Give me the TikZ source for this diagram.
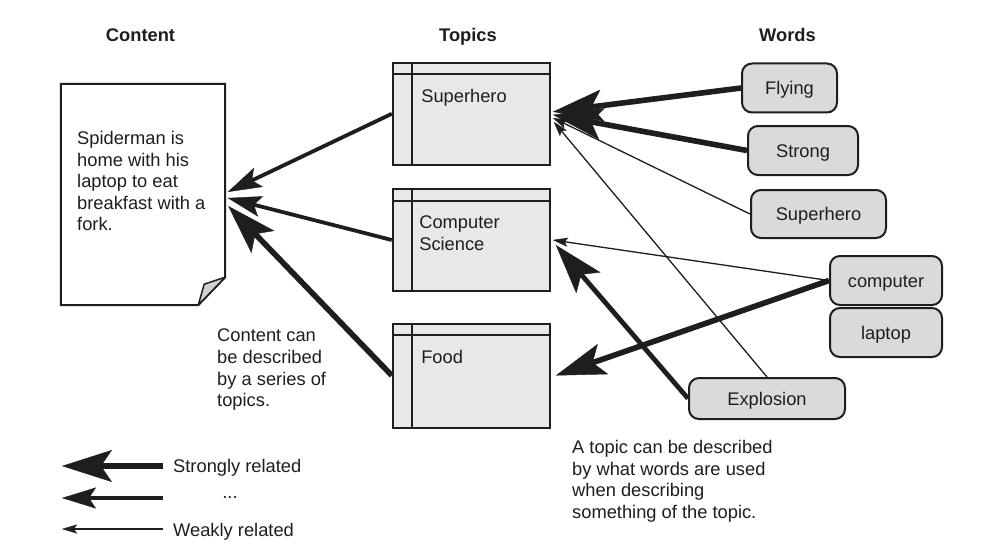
\documentclass[tikz,border=0pt]{standalone}
\usepackage{fontspec}
\setmainfont{Liberation Sans}
\usetikzlibrary{arrows.meta,calc}
\definecolor{ink}{HTML}{1E1E1E}
\definecolor{topicfill}{HTML}{E8E8E8}
\definecolor{wordfill}{HTML}{DADADA}
\definecolor{flapfill}{HTML}{D0D0D0}
\pgfdeclarelayer{bg}
\pgfsetlayers{bg,main}
\tikzset{
  txt/.style={font=\fontsize{18.3}{21.6}\selectfont, text=ink, inner sep=0pt},
  headtxt/.style={font=\fontsize{18.3}{21.6}\selectfont\bfseries, text=ink, inner sep=0pt},
  topicbox/.style={draw=ink, line width=2pt, fill=topicfill, minimum width=157pt, minimum height=102pt, inner sep=0pt},
  topicline/.style={draw=ink, line width=2pt},
  wordbox/.style={draw=ink, line width=2pt, fill=wordfill, rounded corners=10pt, inner sep=0pt,
    font=\fontsize{18.3}{21.6}\selectfont, text=ink, text height=13.2pt, text depth=0pt},
  strongarr/.style={draw=ink, line width=5.6pt, -{Stealth[length=50pt, width=32pt, inset=11pt, line width=0.4pt]}},
  midarr/.style={draw=ink, line width=3.8pt, -{Stealth[length=34pt, width=21pt, inset=7pt, line width=0.4pt]}},
  weakarr/.style={draw=ink, line width=1.3pt, -{Stealth[length=15pt, width=9pt, inset=3pt, line width=0.3pt]}},
}
\begin{document}
\begin{tikzpicture}[x=1pt,y=-1pt]
\begin{pgfonlayer}{bg}
\fill[white] (0,0) rectangle (997,551);
\end{pgfonlayer}
\useasboundingbox (0,0) rectangle (997,551);

% headings
\node[headtxt, anchor=base] (hcontent) at (140.5,41.5) {Content};
\node[headtxt, anchor=base] (htopics) at (468,41.5) {Topics};
\node[headtxt, anchor=base] (hwords) at (787.5,41.5) {Words};

% document
\node[minimum width=164pt, minimum height=221pt, inner sep=0pt] (doc) at (143,194.5) {};
\draw[draw=ink, line width=2pt, fill=white, line join=miter]
  (doc.north west) -- (doc.north east) -- ($(doc.south east)+(0,-28)$)
  -- ($(doc.south east)+(-27,0)$) -- (doc.south west) -- cycle;
\draw[draw=ink, line width=1.5pt, fill=flapfill, line join=round]
  ($(doc.south east)+(0,-28)$) -- ($(doc.south east)+(-21,-21)$) -- ($(doc.south east)+(-27,0)$) -- cycle;
\node[txt, anchor=north west, align=left] (doctext) at (77,131) {Spiderman is\\home with his\\laptop to eat\\breakfast with a\\fork.};

% topics
\node[topicbox] (tsh) at (471.3,113.8) {};
\node[topicbox] (tcs) at (471.3,240) {};
\node[topicbox, minimum height=104pt] (tfd) at (471.3,375.5) {};
\foreach \t in {tsh,tcs,tfd}{
  \draw[topicline] ($(\t.north west)+(0,12.5)$) -- ($(\t.north east)+(0,12.5)$);
  \draw[topicline] ($(\t.north west)+(20,0)$) -- ($(\t.south west)+(20,0)$);
}
\node[txt, anchor=base west] (lsh) at ($(tsh.north west)+(29.3,41)$) {Superhero};
\node[txt, anchor=north west, align=left] (lcs) at ($(tcs.north west)+(27.3,28)$) {Computer\\Science};
\node[txt, anchor=base west] (lfd) at ($(tfd.north west)+(29.3,40.5)$) {Food};

% words
\node[wordbox, minimum width=95pt, minimum height=49pt] (wfly) at (789.5,88) {Flying};
\node[wordbox, minimum width=110pt, minimum height=49pt] (wstr) at (803,150.5) {Strong};
\node[wordbox, minimum width=135pt, minimum height=48pt] (wsup) at (818.5,214) {Superhero};
\node[wordbox, minimum width=112pt, minimum height=49pt] (wcom) at (886,280.5) {computer};
\node[wordbox, minimum width=112pt, minimum height=49pt] (wlap) at (886,332.5) {laptop};
\node[wordbox, minimum width=156pt, minimum height=41pt] (wexp) at (767,398.5) {Explosion};

% arrows
\begin{pgfonlayer}{bg}
\draw[strongarr] (wfly.west) -- ($(tsh.east)+(2,-2)$);
\draw[strongarr] (wstr.west) -- ($(tsh.east)+(2,1)$);
\draw[weakarr] (wsup.west) -- ($(tsh.east)+(2,4)$);
\draw[weakarr] (wexp.north) -- ($(tsh.east)+(3,8)$);
\draw[weakarr] (wcom.west) -- ($(tcs.east)+(2,0)$);
\draw[strongarr, line width=4.8pt] (wexp.west) -- ($(tcs.east)+(5,5)$);
\draw[strongarr] (wcom.west) -- ($(tfd.east)+(5,0)$);
\draw[midarr] (tsh.west) -- ($(doc.east)+(2.5,-2.5)$);
\draw[midarr] (tcs.west) -- ($(doc.east)+(2.5,3.5)$);
\draw[strongarr] (tfd.west) -- ($(doc.east)+(3,11.5)$);
\end{pgfonlayer}

% notes
\node[txt, anchor=north west, align=left] (note1) at (217,329) {Content can\\be described\\by a series of\\topics.};
\node[txt, anchor=north west, align=left] (note2) at (572,440) {A topic can be described\\by what words are used\\when describing\\something of the topic.};

% legend
\coordinate (ls1) at (163,466); \coordinate (lt1) at (62,466);
\coordinate (ls2) at (163,498); \coordinate (lt2) at (62,498);
\coordinate (ls3) at (163,529); \coordinate (lt3) at (62,529);
\draw[strongarr] (ls1) -- (lt1);
\draw[midarr] (ls2) -- (lt2);
\draw[weakarr] (ls3) -- (lt3);
\node[txt, anchor=base west] (lg1) at (173,472.5) {Strongly related};
\node[txt, anchor=base] (lg2) at (230,498) {...};
\node[txt, anchor=base west] (lg3) at (173,536) {Weakly related};
\end{tikzpicture}
\end{document}
